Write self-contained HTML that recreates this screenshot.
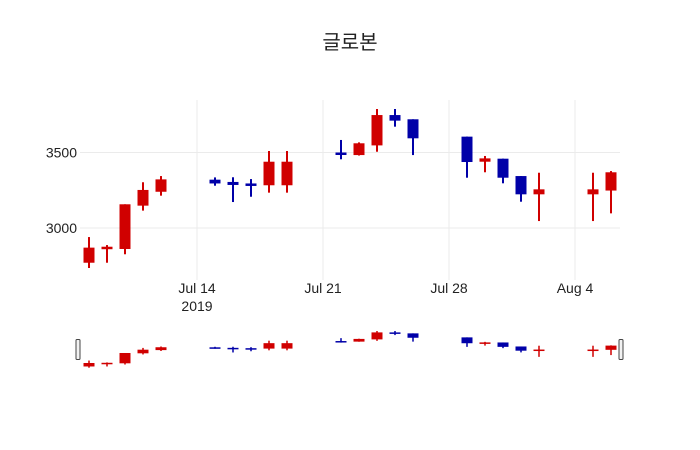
<!DOCTYPE html>
<html><head><meta charset="utf-8">
<style>
html,body{margin:0;padding:0;background:#fff;}
svg{display:block;font-family:"Liberation Sans","Noto Sans CJK KR",sans-serif;}
</style></head>
<body>
<svg id="chart" width="700" height="450" viewBox="0 0 700 450">
<text x="350" y="49" text-anchor="middle" font-size="20" fill="#222">글로본</text>
<g id="grid"></g>
<g id="yaxis"></g>
<g id="xaxis"></g>
<g id="candles"></g>
<g id="slider"></g>
</svg>
<script>
const dates = ["2019-07-08","2019-07-09","2019-07-10","2019-07-11","2019-07-12","2019-07-15","2019-07-16","2019-07-17","2019-07-18","2019-07-19","2019-07-22","2019-07-23","2019-07-24","2019-07-25","2019-07-26","2019-07-29","2019-07-30","2019-07-31","2019-08-01","2019-08-02","2019-08-05","2019-08-06"];
const openV = [2770,2860,2861,3148,3240,3320,3305,3295,3283,3283,3500,3483,3547,3748,3720,3605,3439,3459,3344,3223,3223,3248];
const highV = [2940,2887,3157,3303,3344,3335,3336,3324,3510,3510,3583,3567,3788,3788,3720,3605,3477,3459,3344,3366,3366,3377];
const lowV  = [2735,2770,2826,3115,3214,3280,3172,3207,3234,3234,3455,3480,3505,3671,3483,3333,3369,3296,3174,3046,3046,3097];
const closeV= [2870,2876,3157,3252,3322,3295,3285,3285,3439,3439,3485,3561,3748,3711,3594,3437,3461,3333,3223,3256,3256,3369];
const yTicks = [3000,3500];
const xTicks = ["2019-07-14","2019-07-21","2019-07-28","2019-08-04"];
const xTickLabels = ["Jul 14","Jul 21","Jul 28","Aug 4"];

const NS="http://www.w3.org/2000/svg";
function mk(tag,attrs,parent){const e=document.createElementNS(NS,tag);for(const k in attrs)e.setAttribute(k,attrs[k]);parent.appendChild(e);return e;}
const day=86400000;
const t0=Date.UTC(2019,6,14);
function dnum(s){const p=s.split("-");return (Date.UTC(+p[0],+p[1]-1,+p[2])-t0)/day;}
const X=d=>197+dnum(d)*18;
const Y=v=>228-(v-3000)*0.151;
const lo=Math.min(...lowV),hi=Math.max(...highV);
const SY=v=>367.7-(v-lo)/(hi-lo)*36.7;

const grid=document.getElementById("grid"),ya=document.getElementById("yaxis"),xa=document.getElementById("xaxis");
yTicks.forEach(v=>{
  const l=mk("line",{x1:80,x2:620,y1:Y(v),y2:Y(v),stroke:"#ebebeb","stroke-width":1},grid);
  
  
  const t=mk("text",{x:77,y:Y(v)+5,"text-anchor":"end","font-size":14,fill:"#222"},ya);
  t.textContent=v;
  
  
});
xTicks.forEach((d,i)=>{
  const l=mk("line",{x1:X(d),x2:X(d),y1:100,y2:280,stroke:"#ebebeb","stroke-width":1},grid);
  
  
  const t=mk("text",{x:X(d),y:293,"text-anchor":"middle","font-size":14,fill:"#222"},xa);
  t.textContent=xTickLabels[i];
  
  
});
const yr=mk("text",{x:X(xTicks[0]),y:311,"text-anchor":"middle","font-size":14,fill:"#222"},xa);
yr.textContent="2019";



const cg=document.getElementById("candles"),sg=document.getElementById("slider");
dates.forEach((d,i)=>{
  const up=closeV[i]>=openV[i];
  const col=up?"#d00000":"#0000a8";
  const x=X(d);
  const g=mk("g",{},cg);
  
  
  mk("line",{x1:x,x2:x,y1:Y(highV[i]),y2:Y(lowV[i]),stroke:col,"stroke-width":2},g);
  const top=Y(Math.max(openV[i],closeV[i])),bot=Y(Math.min(openV[i],closeV[i]));
  mk("rect",{x:x-5.5,y:top,width:11,height:Math.max(bot-top,2.5),fill:col},g);
  const s=mk("g",{},sg);
  
  
  mk("line",{x1:x,x2:x,y1:SY(highV[i]),y2:SY(lowV[i]),stroke:col,"stroke-width":1.5},s);
  const st=SY(Math.max(openV[i],closeV[i])),sb=SY(Math.min(openV[i],closeV[i]));
  mk("rect",{x:x-5.5,y:st,width:11,height:Math.max(sb-st,1.5),fill:col},s);
});
[78,621].forEach((hx,i)=>{
  const h=mk("rect",{x:hx-2,y:339.5,width:4,height:20,rx:1,fill:"#f2f2f2",stroke:"#444","stroke-width":1},sg);
  
  
});
</script>
</body></html>
